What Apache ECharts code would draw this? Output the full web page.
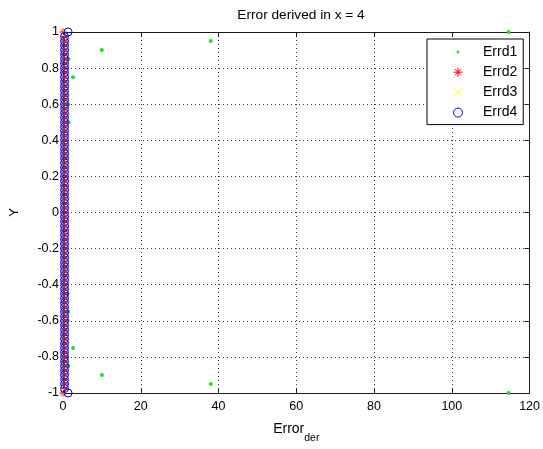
<!DOCTYPE html>
<html>
<head>
<meta charset="utf-8">
<script src="https://cdn.jsdelivr.net/npm/echarts@6/dist/echarts.min.js"></script>
<style>
html,body{margin:0;padding:0;background:#fff;}
#c{width:543px;height:449px;}
</style>
</head>
<body>
<div id="c"></div>
<script>
// ---- data ----
const titleText = 'Error derived in x = 4';
const xTicks = [0, 20, 40, 60, 80, 100, 120];
const yTicks = [-1, -0.8, -0.6, -0.4, -0.2, 0, 0.2, 0.4, 0.6, 0.8, 1];

const yCoarse = [1, 0.95, 0.9, 0.85, 0.8, 0.75, 0.7, 0.65, 0.6, 0.55, 0.5, 0.45, 0.4, 0.35, 0.3, 0.25, 0.2, 0.15, 0.1, 0.05, 0,
  -0.05, -0.1, -0.15, -0.2, -0.25, -0.3, -0.35, -0.4, -0.45, -0.5, -0.55, -0.6, -0.65, -0.7, -0.75, -0.8, -0.85, -0.9, -0.95, -1];
const errd1 = [114.6, 38, 10, 1.4, 0.3, 2.6, 0.4, 0.6, 1.3, 0.3, 1.4, 0.4, 0.3, 0.5, 0.6, 0.3, 0.4, 0.3, 0.5, 0.3, 0.4,
  0.3, 0.5, 0.3, 0.4, 0.3, 0.6, 0.5, 0.3, 1.2, 0.3, 1.3, 1.2, 0.6, 0.4, 2.6, 0.3, 1.4, 10, 38, 114.6];

const yFine = [1, 0.975, 0.95, 0.925, 0.9, 0.875, 0.85, 0.825, 0.8, 0.775, 0.75, 0.725, 0.7, 0.675, 0.65, 0.625, 0.6, 0.575, 0.55, 0.525,
  0.5, 0.475, 0.45, 0.425, 0.4, 0.375, 0.35, 0.325, 0.3, 0.275, 0.25, 0.225, 0.2, 0.175, 0.15, 0.125, 0.1, 0.075, 0.05, 0.025,
  0, -0.025, -0.05, -0.075, -0.1, -0.125, -0.15, -0.175, -0.2, -0.225, -0.25, -0.275, -0.3, -0.325, -0.35, -0.375, -0.4, -0.425, -0.45, -0.475,
  -0.5, -0.525, -0.55, -0.575, -0.6, -0.625, -0.65, -0.675, -0.7, -0.725, -0.75, -0.775, -0.8, -0.825, -0.85, -0.875, -0.9, -0.925, -0.95, -0.975, -1];
const errd2 = [0, 0.4, 0.4, 0.4, 0.4, 0.4, 0.4, 0.4, 0.4, 0.4, 0.4, 0.4, 0.4, 0.4, 0.4, 0.4, 0.4, 0.4, 0.4, 0.4,
  0.4, 0.4, 0.4, 0.4, 0.4, 0.4, 0.4, 0.4, 0.4, 0.4, 0.4, 0.4, 0.4, 0.4, 0.4, 0.4, 0.4, 0.4, 0.4, 0.4,
  0.4, 0.4, 0.4, 0.4, 0.4, 0.4, 0.4, 0.4, 0.4, 0.4, 0.4, 0.4, 0.4, 0.4, 0.4, 0.4, 0.4, 0.4, 0.4, 0.4,
  0.4, 0.4, 0.4, 0.4, 0.4, 0.4, 0.4, 0.4, 0.4, 0.4, 0.4, 0.4, 0.4, 0.4, 0.4, 0.4, 0.4, 0.4, 0.4, 0.4, 0];
const errd3 = [0.2, 0.4, 0.4, 0.4, 0.4, 0.4, 0.4, 0.4, 0.4, 0.4, 0.4, 0.4, 0.4, 0.4, 0.4, 0.4, 0.4, 0.4, 0.4, 0.4,
  0.4, 0.4, 0.4, 0.4, 0.4, 0.4, 0.4, 0.4, 0.4, 0.4, 0.4, 0.4, 0.4, 0.4, 0.4, 0.4, 0.4, 0.4, 0.4, 0.4,
  0.4, 0.4, 0.4, 0.4, 0.4, 0.4, 0.4, 0.4, 0.4, 0.4, 0.4, 0.4, 0.4, 0.4, 0.4, 0.4, 0.4, 0.4, 0.4, 0.4,
  0.4, 0.4, 0.4, 0.4, 0.4, 0.4, 0.4, 0.4, 0.4, 0.4, 0.4, 0.4, 0.4, 0.4, 0.4, 0.4, 0.4, 0.4, 0.4, 0.4, 0.2];
const errd4 = [1.3, 0.4, 0.4, 0.4, 0.4, 0.4, 0.4, 0.4, 0.4, 0.4, 0.4, 0.4, 0.4, 0.4, 0.4, 0.4, 0.4, 0.4, 0.4, 0.4,
  0.4, 0.4, 0.4, 0.4, 0.4, 0.4, 0.4, 0.4, 0.4, 0.4, 0.4, 0.4, 0.4, 0.4, 0.4, 0.4, 0.4, 0.4, 0.4, 0.4,
  0.4, 0.4, 0.4, 0.4, 0.4, 0.4, 0.4, 0.4, 0.4, 0.4, 0.4, 0.4, 0.4, 0.4, 0.4, 0.4, 0.4, 0.4, 0.4, 0.4,
  0.4, 0.4, 0.4, 0.4, 0.4, 0.4, 0.4, 0.4, 0.4, 0.4, 0.4, 0.4, 0.4, 0.4, 0.4, 0.4, 0.4, 0.4, 0.4, 0.4, 1.3];

const seriesNames = ['Errd1', 'Errd2', 'Errd3', 'Errd4'];

// ---- build ----
function pairs(xs, ys) { return xs.map((x, i) => [x, ys[i]]); }

const FONT = '"Liberation Sans", Arial, Helvetica, sans-serif';
const STAR = 'path://M0,-5L0,5M-5,0L5,0M-3.5,-3.5L3.5,3.5M-3.5,3.5L3.5,-3.5';
const XMARK = 'path://M-5 -5L5 5M5 -5L-5 5';
const DOT_ICON = 'path://M-5,-5M5,5M-1.6,0A1.6,1.6 0 1 1 1.6,0A1.6,1.6 0 1 1 -1.6,0Z';
const CIRC = 'path://M-5,0A5,5 0 1 1 5,0A5,5 0 1 1 -5,0Z';

const green = '#14e614', red = '#ff0000', yellow = '#ffff00', blue = '#0000ff';
const axisCol = '#1a1a1a';

const gridLine = { show: true, lineStyle: { color: '#3a3a3a', type: [1, 3], width: 1 } };

function xAxisCfg(pos, labels) {
  return {
    type: 'value', position: pos, min: xTicks[0], max: xTicks[xTicks.length - 1], interval: 20,
    axisLine: { show: true, onZero: false, lineStyle: { color: axisCol, width: 1 } },
    axisTick: { show: true, inside: true, length: 5, lineStyle: { color: axisCol } },
    axisLabel: { show: labels, color: '#000', fontFamily: FONT, fontSize: 12.5, margin: 7 },
    splitLine: labels ? gridLine : { show: false }
  };
}
function yAxisCfg(pos, labels) {
  return {
    type: 'value', position: pos, min: yTicks[0], max: yTicks[yTicks.length - 1], interval: 0.2,
    axisLine: { show: true, onZero: false, lineStyle: { color: axisCol, width: 1 } },
    axisTick: { show: true, inside: true, length: 5, lineStyle: { color: axisCol } },
    axisLabel: { show: labels, color: '#000', fontFamily: FONT, fontSize: 12.5, margin: 4,
      formatter: v => String(Math.round(v * 10) / 10) },
    splitLine: labels ? gridLine : { show: false }
  };
}

const xa0 = xAxisCfg('bottom', true);
xa0.name = 'Error{s|der}';
xa0.nameLocation = 'middle';
xa0.nameGap = 21;
xa0.nameTextStyle = { color: '#000', fontFamily: FONT, fontSize: 14,
  rich: { s: { fontFamily: FONT, fontSize: 10.5, color: '#000', padding: [19, 0, 0, 0] } } };
const ya0 = yAxisCfg('left', true);
ya0.name = 'Y';
ya0.nameLocation = 'middle';
ya0.nameGap = 42;
ya0.nameTextStyle = { color: '#000', fontFamily: FONT, fontSize: 13 };

const option = {
  animation: false,
  backgroundColor: '#fff',
  title: { text: titleText, left: 296, top: 3, textAlign: 'center',
    textStyle: { fontFamily: FONT, fontSize: 13.7, fontWeight: 'normal', color: '#000' } },
  grid: { left: 61, right: 12, top: 32, bottom: 48, containLabel: false },
  xAxis: [xa0, xAxisCfg('top', false)],
  yAxis: [ya0, yAxisCfg('right', false)],
  legend: {
    orient: 'vertical', left: 427, top: 39, padding: [6, 6, 5, 24],
    itemWidth: 40, itemHeight: 9, itemGap: 6.2,
    backgroundColor: '#fff', borderColor: '#000', borderWidth: 1, borderRadius: 0,
    textStyle: { fontFamily: FONT, fontSize: 14, color: '#000' },
    data: [
      { name: seriesNames[0], icon: DOT_ICON, itemStyle: { color: green, borderWidth: 0 } },
      { name: seriesNames[1], icon: STAR, itemStyle: { color: 'none', borderColor: red, borderWidth: 1 } },
      { name: seriesNames[2], icon: XMARK, itemStyle: { color: 'none', borderColor: yellow, borderWidth: 1 } },
      { name: seriesNames[3], icon: CIRC, itemStyle: { color: 'none', borderColor: blue, borderWidth: 1 } }
    ]
  },
  series: [
    { name: seriesNames[0], type: 'scatter', symbol: 'circle', symbolSize: 4,
      itemStyle: { color: green, opacity: 1 }, data: pairs(errd1, yCoarse), z: 2 },
    { name: seriesNames[1], type: 'scatter', symbol: STAR, symbolSize: 7,
      itemStyle: { color: 'none', borderColor: red, borderWidth: 1, opacity: 1 }, data: pairs(errd2, yFine), z: 3 },
    { name: seriesNames[2], type: 'scatter', symbol: XMARK, symbolSize: 6,
      itemStyle: { color: 'none', borderColor: yellow, borderWidth: 1, opacity: 1 }, data: pairs(errd3, yFine), z: 4 },
    { name: seriesNames[3], type: 'scatter', symbol: CIRC, symbolSize: 8,
      itemStyle: { color: 'none', borderColor: blue, borderWidth: 1, opacity: 1 }, data: pairs(errd4, yFine), z: 5 }
  ]
};

const chart = echarts.init(document.getElementById('c'), null, { renderer: 'canvas' });
chart.setOption(option);
</script>
</body>
</html>
